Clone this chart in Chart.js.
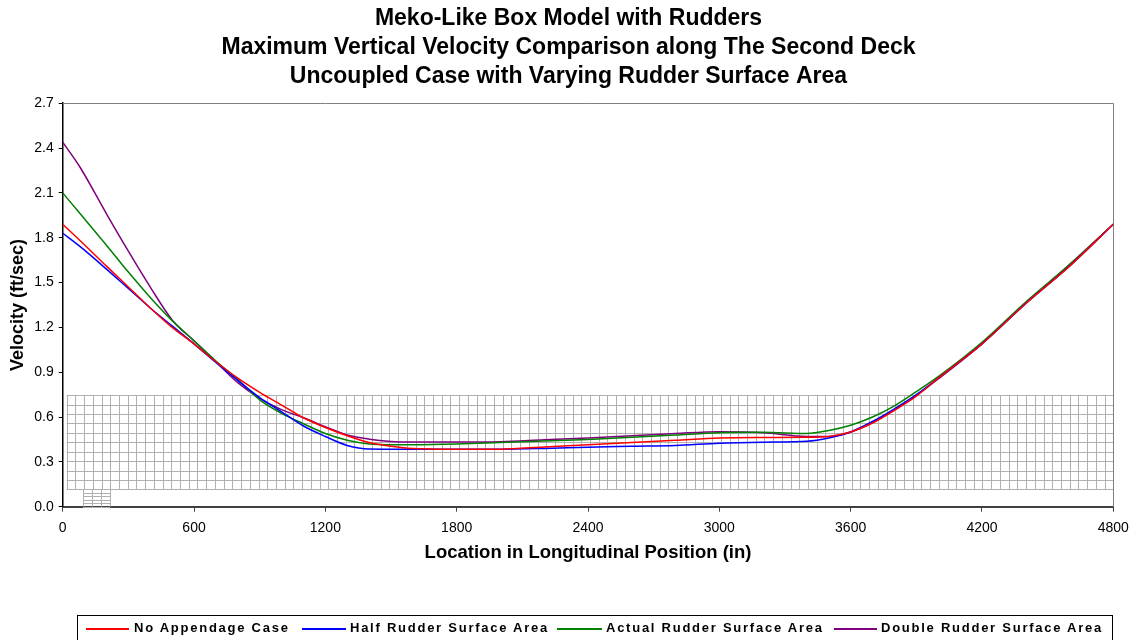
<!DOCTYPE html>
<html>
<head>
<meta charset="utf-8">
<script src="https://cdn.jsdelivr.net/npm/chart.js@4.4.1/dist/chart.umd.min.js"></script>
<style>
  html, body { margin: 0; padding: 0; background: #fff; }
  #wrap { position: relative; width: 1137px; height: 640px; overflow: hidden; }
  #c { position: absolute; left: 0; top: 0; }
  #legend { position: absolute; left: 77px; top: 615px; width: 1036px; height: 40px;
            border: 1px solid #000; box-sizing: border-box; }
  .li { position: absolute; top: 0; height: 24px; font: bold 13px "Liberation Sans", Arial, sans-serif;
        letter-spacing: 1.75px; line-height: 24px; white-space: nowrap; color: #000; }
  .sw { position: absolute; top: 12px; height: 2px; }
</style>
</head>
<body>
<div id="wrap">
  <canvas id="c" width="1137" height="640"></canvas>
  <div id="legend"></div>
</div>
<script>
// ---- Data ----
const positions = [0, 80, 200, 300, 400, 500, 600, 700, 800, 900, 1000, 1100, 1200, 1300, 1400, 1500, 1600,
                   1800, 2000, 2200, 2400, 2600, 2800, 3000, 3200, 3400, 3500, 3600, 3700, 3800, 3900, 4000,
                   4200, 4400, 4600, 4800];
const noAppendage = [1.89, 1.78, 1.61, 1.47, 1.33, 1.20, 1.09, 0.97, 0.86, 0.765, 0.68, 0.595, 0.53, 0.475, 0.43, 0.405, 0.39,
                     0.385, 0.385, 0.40, 0.415, 0.43, 0.445, 0.46, 0.463, 0.464, 0.47, 0.50, 0.56, 0.645, 0.74, 0.86,
                     1.09, 1.36, 1.61, 1.89];
const halfRudder = [1.83, 1.74, 1.59, 1.46, 1.33, 1.21, 1.09, 0.965, 0.845, 0.73, 0.635, 0.54, 0.47, 0.41, 0.386, 0.385, 0.385,
                    0.385, 0.385, 0.39, 0.398, 0.404, 0.41, 0.425, 0.432, 0.438, 0.46, 0.50, 0.57, 0.655, 0.75, 0.86,
                    1.09, 1.36, 1.61, 1.89];
const actualRudder = [2.10, 1.96, 1.75, 1.57, 1.40, 1.245, 1.11, 0.975, 0.85, 0.715, 0.625, 0.555, 0.49, 0.445, 0.42, 0.415, 0.415,
                      0.42, 0.43, 0.44, 0.45, 0.465, 0.48, 0.495, 0.498, 0.49, 0.51, 0.545, 0.60, 0.675, 0.77, 0.87,
                      1.10, 1.37, 1.62, 1.89];
const doubleRudder = [2.44, 2.27, 1.96, 1.71, 1.47, 1.25, 1.11, 0.97, 0.83, 0.725, 0.65, 0.595, 0.535, 0.48, 0.452, 0.437, 0.433,
                      0.433, 0.435, 0.448, 0.46, 0.475, 0.49, 0.502, 0.495, 0.47, 0.47, 0.50, 0.565, 0.65, 0.745, 0.855,
                      1.09, 1.36, 1.62, 1.89];
const seriesNames = ["No Appendage Case", "Half Rudder Surface Area", "Actual Rudder Surface Area", "Double Rudder Surface Area"];
const seriesColors = ["#ff0000", "#0000ff", "#008000", "#800080"];
const titleLines = ["Meko-Like Box Model with Rudders",
                    "Maximum Vertical Velocity Comparison along The Second Deck",
                    "Uncoupled Case with Varying Rudder Surface Area"];
const xTitle = "Location in Longitudinal Position (in)";
const yTitle = "Velocity (ft/sec)";

// Hull-model mesh overlay (in data units)
const mesh = { x0: 18, x1: 4800, cols: 120, y0: 0.116, y1: 0.746, rows: 10 };
const smallMesh = { x0: 94, x1: 216, cols: 3, y0: 0, y1: 0.116, rows: 5 };

const seriesValues = [noAppendage, halfRudder, actualRudder, doubleRudder];

const meshPlugin = {
  id: 'mesh',
  beforeDatasetsDraw(chart) {
    const {ctx, scales: {x, y}, chartArea: a} = chart;
    ctx.save();
    ctx.strokeStyle = '#b0b0b0';
    ctx.lineWidth = 1;
    for (const m of [mesh, smallMesh]) {
      const px0 = x.getPixelForValue(m.x0), px1 = x.getPixelForValue(m.x1);
      const py0 = y.getPixelForValue(m.y0), py1 = y.getPixelForValue(m.y1);
      ctx.beginPath();
      for (let i = 0; i <= m.cols; i++) {
        const px = Math.round(px0 + (px1 - px0) * i / m.cols) + 0.5;
        ctx.moveTo(px, py0); ctx.lineTo(px, py1);
      }
      for (let j = 0; j <= m.rows; j++) {
        const py = Math.round(py0 + (py1 - py0) * j / m.rows) + 0.5;
        ctx.moveTo(px0, py); ctx.lineTo(px1, py);
      }
      ctx.stroke();
    }
    // top and right frame of plot area
    ctx.strokeStyle = '#808080';
    ctx.beginPath();
    ctx.moveTo(a.left, Math.round(a.top) + 0.5);
    ctx.lineTo(Math.round(a.right) + 0.5, Math.round(a.top) + 0.5);
    ctx.lineTo(Math.round(a.right) + 0.5, a.bottom);
    ctx.stroke();
    ctx.restore();
  }
};

const FONT = "'Liberation Sans', Arial, sans-serif";
new Chart(document.getElementById('c'), {
  type: 'line',
  data: {
    datasets: seriesValues.map((vals, k) => ({
      label: seriesNames[k],
      data: positions.map((p, i) => ({x: p, y: vals[i]})),
      borderColor: seriesColors[k],
      backgroundColor: seriesColors[k],
      borderWidth: 1.5,
      pointRadius: 0,
      cubicInterpolationMode: 'monotone',
      fill: false
    }))
  },
  options: {
    responsive: false,
    animation: false,
    layout: { padding: { left: 0, top: 0, right: 0, bottom: 73.3 } },
    plugins: {
      legend: { display: false },
      tooltip: { enabled: false },
      title: {
        display: true,
        text: titleLines,
        color: '#000',
        font: { family: FONT, size: 23, weight: 'bold', lineHeight: 1.27 },
        padding: { top: 4, bottom: 11.6 }
      }
    },
    scales: {
      x: {
        type: 'linear', min: 0, max: 4800,
        afterFit: s => { s.height = 60; },
        ticks: { stepSize: 600, color: '#000', padding: 8, maxRotation: 0,
                 callback: v => String(v),
                 font: { family: FONT, size: 14 } },
        grid: { drawOnChartArea: false, drawTicks: true, tickLength: 5, color: '#404040' },
        border: { color: '#404040', width: 2 },
        title: { display: true, text: xTitle, color: '#000', padding: { top: 2, bottom: 3 },
                 font: { family: FONT, size: 18.5, weight: 'bold' } }
      },
      y: {
        type: 'linear', min: 0, max: 2.7,
        afterFit: s => { s.width = 62.7; },
        ticks: { stepSize: 0.3, color: '#000', padding: 5,
                 callback: v => Number(v).toFixed(1),
                 font: { family: FONT, size: 14 } },
        grid: { drawOnChartArea: false, drawTicks: true, tickLength: 4, color: '#000' },
        border: { color: '#000', width: 1.5 },
        title: { display: true, text: yTitle, color: '#000', padding: { top: 7, bottom: 4 },
                 font: { family: FONT, size: 18, weight: 'bold' } }
      },
      yRightSpace: {
        type: 'linear', position: 'right', min: 0, max: 2.7,
        afterFit: s => { s.width = 23.7; },
        ticks: { display: false },
        grid: { display: false },
        border: { display: false }
      }
    }
  },
  plugins: [meshPlugin]
});

// HTML legend
const legendLefts = [[8, 56], [224, 272], [479, 528], [756, 803]];
const legendWidths = [43, 44, 45, 43];
const lg = document.getElementById('legend');
seriesNames.forEach((n, k) => {
  const sw = document.createElement('div');
  sw.className = 'sw';
  sw.style.left = legendLefts[k][0] + 'px';
  sw.style.width = legendWidths[k] + 'px';
  sw.style.background = seriesColors[k];
  lg.appendChild(sw);
  const t = document.createElement('div');
  t.className = 'li';
  t.style.left = legendLefts[k][1] + 'px';
  t.textContent = n;
  lg.appendChild(t);
});
</script>
</body>
</html>
